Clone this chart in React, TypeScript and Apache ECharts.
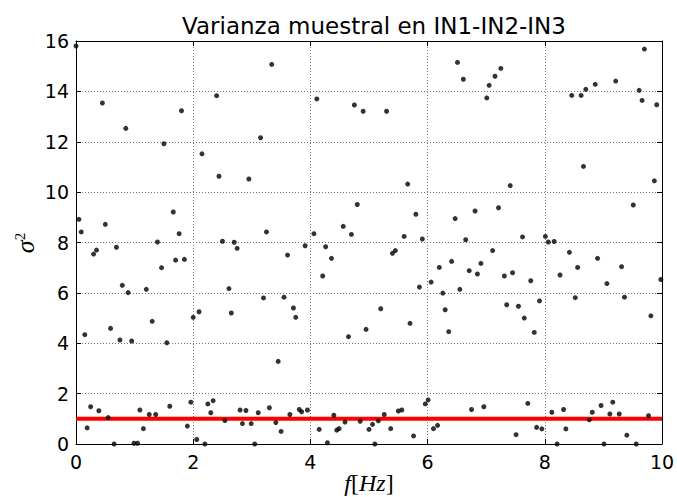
import React, { useEffect, useRef } from "react";
import * as echarts from "echarts";

const titleText = "Varianza muestral en IN1-IN2-IN3";
const xRange = [0, 10];
const yRange = [0, 16];
const xInterval = 2;
const yInterval = 2;
const referenceLevel = 1;

const freqHz = [
  0.0, 0.05, 0.09, 0.15, 0.19, 0.25, 0.3, 0.35, 0.39, 0.45, 0.5, 0.55, 0.59, 0.65, 0.69, 0.75, 0.79, 0.85, 0.89, 0.95,
  0.99, 1.05, 1.09, 1.15, 1.2, 1.25, 1.3, 1.36, 1.39, 1.46, 1.5, 1.55, 1.6, 1.66, 1.7, 1.76, 1.8, 1.85, 1.9, 1.96,
  2.0, 2.06, 2.1, 2.15, 2.2, 2.25, 2.3, 2.34, 2.4, 2.44, 2.5, 2.54, 2.61, 2.65, 2.7, 2.75, 2.8, 2.84, 2.9, 2.95,
  2.99, 3.05, 3.11, 3.15, 3.2, 3.25, 3.3, 3.34, 3.41, 3.45, 3.5, 3.55, 3.61, 3.65, 3.71, 3.75, 3.81, 3.85, 3.91, 3.95,
  4.06, 4.11, 4.15, 4.21, 4.26, 4.29, 4.36, 4.4, 4.45, 4.49, 4.56, 4.59, 4.65, 4.7, 4.75, 4.8, 4.85, 4.9, 4.95, 5.0,
  5.06, 5.1, 5.16, 5.2, 5.26, 5.3, 5.37, 5.4, 5.45, 5.5, 5.56, 5.6, 5.66, 5.7, 5.76, 5.8, 5.86, 5.91, 5.96, 6.01,
  6.06, 6.1, 6.17, 6.2, 6.26, 6.3, 6.36, 6.41, 6.47, 6.51, 6.55, 6.61, 6.65, 6.71, 6.75, 6.81, 6.85, 6.91, 6.96, 7.01,
  7.05, 7.11, 7.15, 7.21, 7.25, 7.31, 7.35, 7.41, 7.45, 7.51, 7.55, 7.62, 7.65, 7.71, 7.76, 7.82, 7.86, 7.91, 7.95, 8.01,
  8.06, 8.12, 8.16, 8.21, 8.26, 8.32, 8.36, 8.42, 8.46, 8.52, 8.56, 8.62, 8.66, 8.7, 8.76, 8.81, 8.86, 8.9, 8.96, 9.01,
  9.06, 9.11, 9.16, 9.21, 9.27, 9.31, 9.36, 9.4, 9.51, 9.56, 9.61, 9.66, 9.7, 9.77, 9.81, 9.87, 9.91, 9.98,
];

const varianza = [
  15.8, 8.92, 8.42, 4.34, 0.64, 1.48, 7.54, 7.7, 1.32, 13.54, 8.72, 1.05, 4.59, 0.0, 7.81, 4.13, 6.3, 12.53, 6.01, 4.09,
  0.03, 0.03, 1.35, 0.61, 6.14, 1.17, 4.87, 1.17, 8.02, 7.0, 11.92, 4.02, 1.5, 9.21, 7.3, 8.35, 13.23, 7.33, 0.71, 1.66,
  5.03, 0.18, 5.25, 11.52, 0.0, 1.59, 1.24, 1.72, 13.83, 10.63, 8.05, 0.93, 6.17, 5.2, 8.01, 7.77, 1.35, 0.81, 1.33, 10.52,
  0.81, 0.0, 1.24, 12.16, 5.8, 8.42, 1.44, 15.07, 0.85, 3.28, 0.5, 5.83, 7.5, 1.17, 5.4, 5.03, 1.37, 1.28, 7.87, 1.35,
  8.35, 13.7, 0.58, 6.67, 7.83, 0.05, 7.37, 1.14, 0.55, 0.61, 8.64, 0.87, 4.26, 8.32, 13.46, 9.51, 0.9, 13.21, 4.55, 0.58,
  0.78, 0.0, 0.92, 5.37, 1.17, 13.21, 0.61, 7.57, 7.68, 1.31, 1.35, 8.24, 10.32, 4.79, 0.32, 9.12, 6.23, 8.14, 1.59, 1.75,
  6.43, 0.61, 0.74, 7.01, 5.99, 5.33, 4.46, 7.25, 8.95, 15.15, 6.14, 14.48, 8.11, 6.88, 1.37, 9.25, 6.75, 7.17, 1.48, 13.74,
  14.24, 7.68, 14.6, 9.38, 14.91, 6.67, 5.53, 10.26, 6.8, 0.37, 5.47, 8.22, 5.0, 1.61, 6.48, 4.43, 0.66, 5.68, 0.6, 8.24,
  8.02, 1.26, 8.04, 0.0, 6.71, 1.37, 0.6, 7.61, 13.84, 5.81, 7.01, 13.84, 11.02, 14.08, 0.96, 1.26, 14.28, 7.37, 1.53, 0.0,
  6.37, 1.19, 1.66, 14.41, 1.19, 7.04, 5.83, 0.35, 9.49, 0.0, 14.04, 13.64, 15.68, 1.12, 5.09, 10.45, 13.47, 6.53,
];

const FONT = "'DejaVu Sans', sans-serif";
const MATH = "'Liberation Serif', 'DejaVu Serif', serif";

export default function App() {
  const ref = useRef<HTMLDivElement>(null);

  useEffect(() => {
    if (!ref.current) return;
    const chart = echarts.init(ref.current, null, { renderer: "svg" });

    const points = freqHz.map((f, i) => [f, varianza[i]]);

    const baseX = {
      type: "value" as const,
      min: xRange[0],
      max: xRange[1],
      interval: xInterval,
    };
    const baseY = {
      type: "value" as const,
      min: yRange[0],
      max: yRange[1],
      interval: yInterval,
    };
    const axisLine = { show: true, onZero: false, lineStyle: { color: "#000", width: 1 } };
    const axisTick = { show: true, inside: true, length: 5, lineStyle: { color: "#000", width: 1 } };

    chart.setOption({
      animation: false,
      backgroundColor: "#fff",
      title: {
        text: titleText,
        left: 369,
        textAlign: "center",
        top: 9,
        textStyle: { fontFamily: FONT, fontSize: 23, fontWeight: "normal", color: "#000" },
      },
      grid: {
        left: 76,
        right: 15,
        top: 41,
        bottom: 53,
        containLabel: false,
        outerBoundsMode: "none",
      },
      graphic: [
        {
          type: "text",
          x: 369,
          y: 495,
          style: {
            text: "{i|f}{r|[}{i|Hz}{r|]}",
            align: "center",
            verticalAlign: "bottom",
            rich: {
              i: { fontFamily: MATH, fontStyle: "italic", fontSize: 24, fill: "#000" },
              r: { fontFamily: MATH, fontSize: 24, fill: "#000" },
            },
          },
        },
        {
          type: "text",
          x: 25,
          y: 243,
          rotation: Math.PI / 2,
          style: {
            text: "{s|σ}{p|2}",
            align: "center",
            verticalAlign: "middle",
            rich: {
              s: { fontFamily: MATH, fontStyle: "italic", fontSize: 26, fill: "#000" },
              p: { fontFamily: MATH, fontSize: 15, fill: "#000", verticalAlign: "top", padding: [0, 0, 10, 0] },
            },
          },
        },
      ],
      xAxis: [
        {
          ...baseX,
          position: "bottom",
          axisLine,
          axisTick,
          axisLabel: { show: true, margin: 8, fontFamily: FONT, fontSize: 19, color: "#000" },
          splitLine: { show: true, lineStyle: { color: "#777", width: 1, type: [1, 2] } },
        },
        {
          ...baseX,
          position: "top",
          axisLine,
          axisTick,
          axisLabel: { show: false },
          splitLine: { show: false },
        },
      ],
      yAxis: [
        {
          ...baseY,
          position: "left",
          axisLine,
          axisTick,
          axisLabel: { show: true, margin: 7, fontFamily: FONT, fontSize: 19, color: "#000" },
          splitLine: { show: true, lineStyle: { color: "#777", width: 1, type: [1, 2] } },
        },
        {
          ...baseY,
          position: "right",
          axisLine,
          axisTick,
          axisLabel: { show: false },
          splitLine: { show: false },
        },
      ],
      series: [
        {
          type: "line",
          xAxisIndex: 0,
          yAxisIndex: 0,
          data: [
            [xRange[0], referenceLevel],
            [xRange[1], referenceLevel],
          ],
          symbol: "none",
          lineStyle: { color: "#ff0000", width: 4 },
          silent: true,
          z: 2,
        },
        {
          type: "scatter",
          xAxisIndex: 0,
          yAxisIndex: 0,
          data: points,
          symbol: "circle",
          symbolSize: 5,
          itemStyle: { color: "#000" },
          clip: false,
          z: 3,
        },
      ],
    });

    return () => chart.dispose();
  }, []);

  return <div ref={ref} style={{ width: 677, height: 497, position: "absolute", left: 0, top: 0 }} />;
}
